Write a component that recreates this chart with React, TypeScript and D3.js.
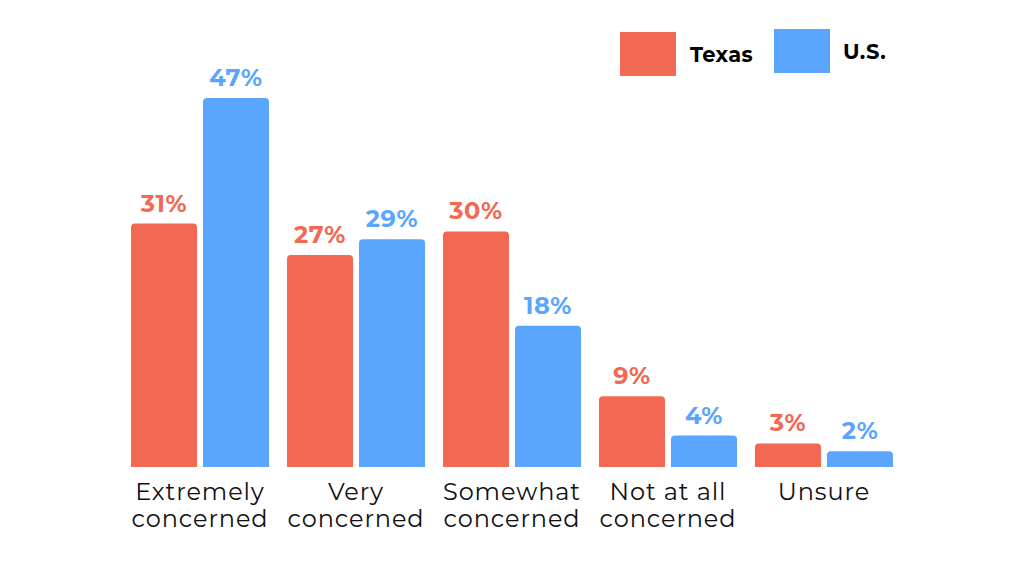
import React, { useEffect, useRef } from 'react';
import * as d3 from 'd3';

const categories = ['Extremely\nconcerned', 'Very\nconcerned', 'Somewhat\nconcerned', 'Not at all\nconcerned', 'Unsure'];
const seriesNames = ['Texas', 'U.S.'];
const texas = [31, 27, 30, 9, 3];
const us = [47, 29, 18, 4, 2];
const colors = ['#F26852', '#5AA5FE'];

const font = "Montserrat, 'Open Sans', 'DejaVu Sans', sans-serif";

const topRounded = (x: number, y: number, w: number, h: number, r: number) => {
  const rr = Math.min(r, h, w / 2);
  return `M${x},${y + h}V${y + rr}Q${x},${y} ${x + rr},${y}H${x + w - rr}Q${x + w},${y} ${x + w},${y + rr}V${y + h}Z`;
};

const App: React.FC = () => {
  const svgRef = useRef<SVGSVGElement>(null);

  useEffect(() => {
    if (!svgRef.current) return;
    const svg = d3.select(svgRef.current);
    svg.selectAll('*').remove();

    const W = 1024, H = 576;
    svg.attr('width', W).attr('height', H);
    svg.append('rect').attr('width', W).attr('height', H).attr('fill', '#fff');

    const left = 131, right = 893, baseline = 467;

    const x0 = d3.scaleBand<string>().domain(categories).range([left, right]).paddingInner(0.115).paddingOuter(0);
    const x1 = d3.scaleBand<string>().domain(seriesNames).range([0, x0.bandwidth()]).paddingInner(0.083);
    const y = d3.scaleLinear().domain([0, 47]).range([baseline, 98]);

    const series = [texas, us];
    const g = svg.append('g');

    series.forEach((vals, si) => {
      const name = seriesNames[si];
      g.selectAll(`.bar${si}`)
        .data(vals)
        .enter()
        .append('path')
        .attr('d', (d, i) => {
          const bx = (x0(categories[i]) || 0) + (x1(name) || 0);
          return topRounded(bx, y(d), x1.bandwidth(), baseline - y(d), 4);
        })
        .attr('fill', colors[si]);

      g.selectAll(`.lab${si}`)
        .data(vals)
        .enter()
        .append('text')
        .attr('x', (d, i) => (x0(categories[i]) || 0) + (x1(name) || 0) + x1.bandwidth() / 2)
        .attr('y', d => y(d) - 12)
        .attr('text-anchor', 'middle')
        .attr('font-family', font)
        .attr('font-weight', 700)
        .attr('font-size', 24)
        .attr('letter-spacing', 0.6)
        .attr('fill', colors[si])
        .text(d => `${d}%`);
    });

    // category labels, one text per line
    categories.forEach(c => {
      const cx = (x0(c) || 0) + x0.bandwidth() / 2;
      c.split('\n').forEach((line, li) => {
        svg.append('text')
          .attr('x', cx)
          .attr('y', 500 + li * 27)
          .attr('text-anchor', 'middle')
          .attr('font-family', font)
          .attr('font-size', 24)
          .attr('letter-spacing', 0.9)
          .attr('fill', '#111')
          .text(line);
      });
    });

    // legend
    const legend = [
      { x: 620, y: 32, tx: 690 },
      { x: 774, y: 29, tx: 843 },
    ];
    seriesNames.forEach((n, i) => {
      const L = legend[i];
      svg.append('rect')
        .attr('x', L.x).attr('y', L.y).attr('width', 56).attr('height', 44)
        .attr('fill', colors[i]);
      svg.append('text')
        .attr('x', L.tx).attr('y', L.y + 22)
        .attr('dominant-baseline', 'central')
        .attr('font-family', font)
        .attr('font-weight', 700)
        .attr('font-size', 21)
        .attr('letter-spacing', 0.4)
        .attr('fill', '#000')
        .text(n);
    });
  }, []);

  return (
    <div>
      <svg ref={svgRef} style={{ display: 'block', position: 'absolute', left: 0, top: 0 }}></svg>
    </div>
  );
};

export default App;
